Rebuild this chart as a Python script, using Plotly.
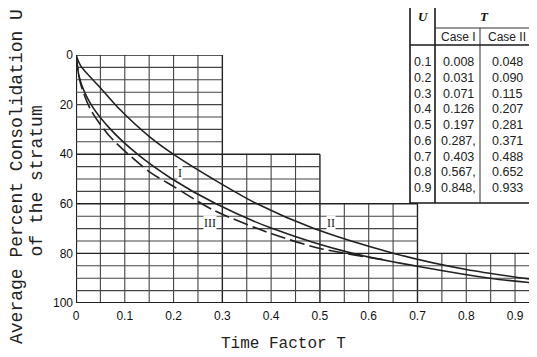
import plotly.graph_objects as go

# ---------------- data ----------------
# Table (U vs T for Case I / Case II)
table_U = ["0.1", "0.2", "0.3", "0.4", "0.5", "0.6", "0.7", "0.8", "0.9"]
table_T1 = ["0.008", "0.031", "0.071", "0.126", "0.197", "0.287,", "0.403", "0.567,", "0.848,"]
table_T2 = ["0.048", "0.090", "0.115", "0.207", "0.281", "0.371", "0.488", "0.652", "0.933"]

# Curve I (from the table, extended to the plot edge)
curve1_T = [0, 0.008, 0.031, 0.071, 0.126, 0.197, 0.287, 0.403, 0.567, 0.848, 0.945]
curve1_U = [0, 10, 20, 30, 40, 50, 60, 70, 80, 90, 92]

# Curve II
curve2_T = [0, 0.01, 0.049, 0.09, 0.151, 0.207, 0.281, 0.371, 0.488, 0.652, 0.8, 0.945]
curve2_U = [0, 4.5, 13, 22, 33, 41, 50, 60, 70, 80, 86.5, 90.7]

# Curve III (dashed)
curve3_T = [0, 0.01, 0.03, 0.07, 0.15, 0.2, 0.281, 0.4, 0.5, 0.63]
curve3_U = [0, 12, 22, 33, 47, 53, 62.5, 72, 78, 82.5]

# Curve labels
label_text = ["I", "II", "III"]
label_T = [0.213, 0.523, 0.275]
label_U = [47.6, 67.7, 67.7]

# Staircase-shaped grid region
step_edges = [0, 0.3, 0.5, 0.7, 0.95]
step_tops = [0, 40, 60, 80]

x_ticks = [0, 0.1, 0.2, 0.3, 0.4, 0.5, 0.6, 0.7, 0.8, 0.9]
x_ticktext = ["0", "0.1", "0.2", "0.3", "0.4", "0.5", "0.6", "0.7", "0.8", "0.9"]
y_ticks = [0, 20, 40, 60, 80, 100]

x_title = "Time Factor T"
y_title_lines = ["Average Percent Consolidation U", "of the stratum"]

# ---------------- layout helpers ----------------
# the page body has an 8px margin, so the figure is laid out 8px up/left
OFF = 8
W, H = 537, 357
ML, MT = 76 - OFF, 55 - OFF
MR = W - (537 - OFF)
MB = H - (303 - OFF)
PW, PH = W - ML - MR, H - MT - MB


def px(x):
    # reference pixel x -> paper x
    return (x - OFF - ML) / PW


def py(y):
    # reference pixel y -> paper y
    return (H - MB - (y - OFF)) / PH


INK = "#222222"
GRID = "#444444"

fig = go.Figure()

# curves
fig.add_trace(go.Scatter(x=curve2_T, y=curve2_U, mode="lines", line=dict(color=INK, width=1.6, shape="spline", smoothing=0.8), hoverinfo="skip"))
fig.add_trace(go.Scatter(x=curve1_T, y=curve1_U, mode="lines", line=dict(color=INK, width=1.6, shape="spline", smoothing=0.8), hoverinfo="skip"))
fig.add_trace(go.Scatter(x=curve3_T, y=curve3_U, mode="lines", line=dict(color=INK, width=1.6, shape="spline", smoothing=0.8, dash="15px,5px"), hoverinfo="skip"))

shapes = []


def top_at(x):
    tops = []
    for i in range(len(step_tops)):
        a, b = step_edges[i], step_edges[i + 1]
        if a - 1e-9 <= x <= b + 1e-9:
            tops.append(step_tops[i])
    return min(tops) if tops else None


def right_at(u):
    r = 0
    for i in range(len(step_tops)):
        if step_tops[i] <= u + 1e-9:
            r = step_edges[i + 1]
    return r


# vertical grid lines every 0.05
for k in range(0, 19):
    x = round(k * 0.05, 4)
    t = top_at(x)
    if t is None:
        continue
    is_border = any(abs(x - e) < 1e-9 for e in step_edges)
    w = 2.2 if x == 0 else (1.4 if is_border else 1.1)
    shapes.append(dict(type="line", xref="x", yref="y", x0=x, x1=x, y0=t, y1=100,
                       line=dict(color=GRID if not is_border else INK, width=w), layer="below"))

# horizontal grid lines every 5
for k in range(0, 21):
    u = k * 5
    r = right_at(u)
    is_border = u in step_tops or u == 100
    w = 2.2 if u == 100 else (1.4 if is_border else 1.1)
    shapes.append(dict(type="line", xref="x", yref="y", x0=0, x1=r, y0=u, y1=u,
                       line=dict(color=GRID if not is_border else INK, width=w), layer="below"))

# ---------------- table ----------------
TL, TR, TT, TB = 410, 533, 5, 203
C1, C2 = 435, 480
R1, R2 = 28, 45
row0, rowh = 62, 15.75

tline = dict(color="#1a1a1a", width=1.6)
shapes += [
    dict(type="rect", xref="paper", yref="paper", x0=px(TL), x1=px(TR), y0=py(TT), y1=py(TB), line=tline, fillcolor="white"),
    dict(type="line", xref="paper", yref="paper", x0=px(C1), x1=px(C1), y0=py(TT), y1=py(TB), line=tline),
    dict(type="line", xref="paper", yref="paper", x0=px(C2), x1=px(C2), y0=py(R1), y1=py(TB), line=dict(color="#333", width=1)),
    dict(type="line", xref="paper", yref="paper", x0=px(C1), x1=px(TR), y0=py(R1), y1=py(R1), line=dict(color="#333", width=1)),
    dict(type="line", xref="paper", yref="paper", x0=px(TL), x1=px(TR), y0=py(R2), y1=py(R2), line=dict(color="#1a1a1a", width=1.3)),
]

annotations = []
serif_bi = dict(family="Liberation Serif", size=13, color="#111")
annotations.append(dict(text="<b><i>U</i></b>", x=px((TL + C1) / 2), y=py(16), xref="paper", yref="paper", showarrow=False, font=serif_bi, xanchor="center", yanchor="middle"))
annotations.append(dict(text="<b><i>T</i></b>", x=px((C1 + TR) / 2), y=py(16), xref="paper", yref="paper", showarrow=False, font=serif_bi, xanchor="center", yanchor="middle"))
tfont = dict(family="Liberation Sans", size=12, color="#222")
annotations.append(dict(text="Case I", x=px(458), y=py(37), xref="paper", yref="paper", showarrow=False, font=tfont, xanchor="center", yanchor="middle"))
annotations.append(dict(text="Case II", x=px(507), y=py(37), xref="paper", yref="paper", showarrow=False, font=tfont, xanchor="center", yanchor="middle"))
vfont = dict(family="Liberation Sans", size=12.5, color="#222")
for i in range(len(table_U)):
    yy = py(row0 + i * rowh)
    annotations.append(dict(text=table_U[i], x=px(422.5), y=yy, xref="paper", yref="paper", showarrow=False, font=vfont, xanchor="center", yanchor="middle"))
    annotations.append(dict(text=table_T1[i], x=px(458), y=yy, xref="paper", yref="paper", showarrow=False, font=vfont, xanchor="center", yanchor="middle"))
    annotations.append(dict(text=table_T2[i], x=px(507), y=yy, xref="paper", yref="paper", showarrow=False, font=vfont, xanchor="center", yanchor="middle"))

# curve labels
for t, xx, yy in zip(label_text, label_T, label_U):
    annotations.append(dict(text=t, x=xx, y=yy, xref="x", yref="y", showarrow=False,
                            font=dict(family="Liberation Serif", size=12, color="#222"),
                            bgcolor="white", borderpad=0, xanchor="center", yanchor="middle"))

# axis titles
annotations.append(dict(text=x_title, x=px(283), y=py(344), xref="paper", yref="paper", showarrow=False,
                        font=dict(family="Liberation Mono", size=16, color="#222"), xanchor="center", yanchor="middle"))
for line_text, cx, cy in zip(y_title_lines, [17, 36.5], [177, 181]):
    annotations.append(dict(text=line_text, x=px(cx), y=py(cy), xref="paper", yref="paper",
                            showarrow=False, textangle=-90,
                            font=dict(family="Liberation Mono", size=18, color="#222"),
                            xanchor="center", yanchor="middle"))

fig.update_layout(
    width=W, height=H,
    margin=dict(l=ML, r=MR, t=MT, b=MB),
    paper_bgcolor="white", plot_bgcolor="white",
    showlegend=False,
    shapes=shapes,
    annotations=annotations,
    xaxis=dict(range=[0, 0.945], tickvals=x_ticks, ticktext=x_ticktext, showgrid=False, zeroline=False,
               showline=False, ticks="", ticklabelstandoff=4,
               tickfont=dict(family="Liberation Sans", size=12, color="#111")),
    yaxis=dict(range=[100, 0], tickvals=y_ticks, showgrid=False, zeroline=False, showline=False,
               ticks="", ticklabelstandoff=2,
               tickfont=dict(family="Liberation Sans", size=12, color="#111")),
)

fig.write_html("out.html")
